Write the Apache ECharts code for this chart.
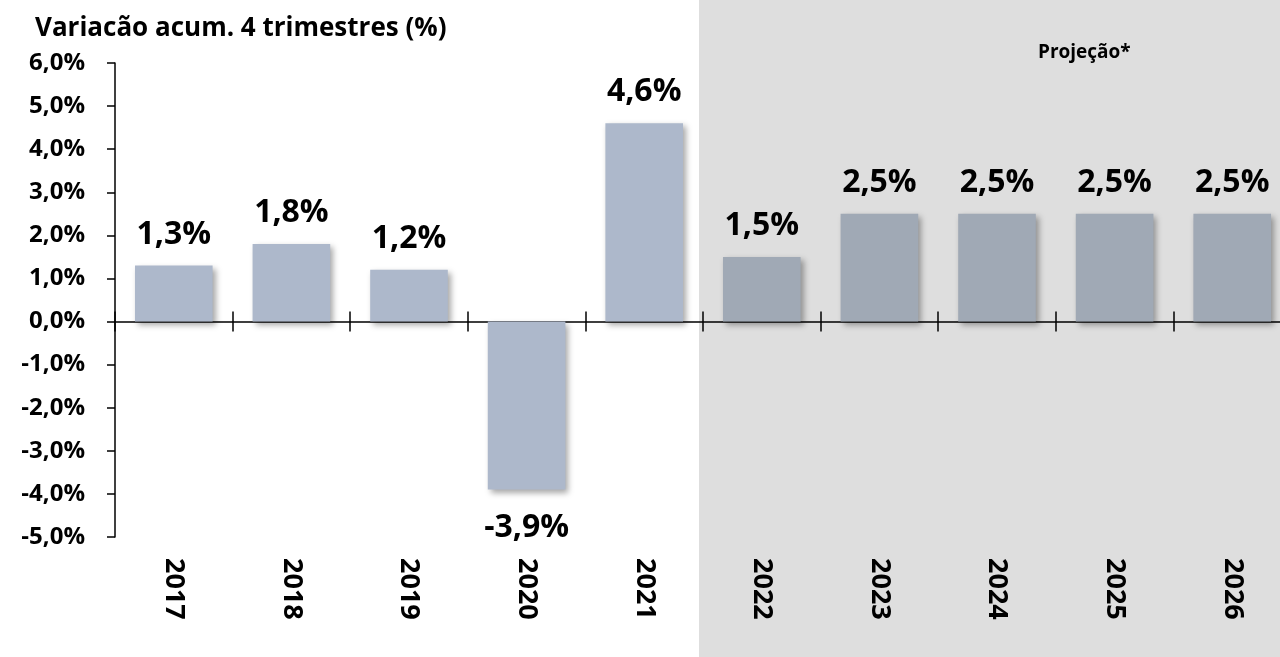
<!DOCTYPE html>
<html>
<head>
<meta charset="utf-8">
<script src="https://cdn.jsdelivr.net/npm/echarts@6/dist/echarts.min.js"></script>
<style>
  html, body { margin: 0; padding: 0; background: #fff; }
  #chart { width: 1280px; height: 657px; }
</style>
</head>
<body>
<div id="chart"></div>
<script>
var years = ['2017', '2018', '2019', '2020', '2021', '2022', '2023', '2024', '2025', '2026'];
var values = [1.3, 1.8, 1.2, -3.9, 4.6, 1.5, 2.5, 2.5, 2.5, 2.5];
var projected = [false, false, false, false, false, true, true, true, true, true];

var fontFam = '"Open Sans", "Noto Sans", sans-serif';

function pct(v) {
    return v.toFixed(1).replace('.', ',') + '%';
}

var chart = echarts.init(document.getElementById('chart'));

var option = {
    backgroundColor: '#ffffff',
    animation: false,
    title: [
        {
            text: 'Variacão acum. 4 trimestres (%)',
            left: 30,
            top: 11,
            textStyle: { fontFamily: fontFam, fontWeight: 'bold', fontSize: 26, color: '#000' }
        },
        {
            text: 'Projeção*',
            left: 1033,
            top: 38,
            textStyle: { fontFamily: fontFam, fontWeight: 'bold', fontSize: 19, color: '#000' }
        }
    ],
    graphic: [
        {
            type: 'rect',
            z: -10,
            silent: true,
            shape: { x: 699, y: 0, width: 600, height: 657 },
            style: { fill: '#dedede' }
        }
    ],
    grid: {
        left: 115,
        width: 1176,
        top: 63,
        bottom: 120,
        outerBoundsMode: 'none',
        containLabel: false
    },
    xAxis: [
        {
            type: 'category',
            data: years,
            position: 'bottom',
            axisLine: { onZero: true, onZeroAxisIndex: 0, lineStyle: { color: '#000', width: 1.5 } },
            axisTick: { show: true, inside: false, length: 10, lineStyle: { color: '#000', width: 1.5 } },
            axisLabel: { show: false }
        },
        {
            type: 'category',
            data: years,
            position: 'bottom',
            axisLine: { show: false, onZero: true, onZeroAxisIndex: 0 },
            axisTick: { show: true, inside: true, length: 10, lineStyle: { color: '#000', width: 1.5 } },
            axisLabel: { show: false }
        },
        {
            type: 'category',
            data: years,
            position: 'bottom',
            axisLine: { show: false, onZero: false },
            axisTick: { show: false },
            axisLabel: {
                rotate: -90,
                margin: 21,
                fontFamily: fontFam,
                fontWeight: 'bold',
                fontSize: 27,
                color: '#000'
            }
        }
    ],
    yAxis: {
        type: 'value',
        min: -5,
        max: 6,
        interval: 1,
        splitLine: { show: false },
        axisLine: { show: true, lineStyle: { color: '#000', width: 1.5 } },
        axisTick: { show: true, length: 8, lineStyle: { color: '#000', width: 1.5 } },
        axisLabel: {
            margin: 30,
            formatter: function (v) { return pct(v); },
            fontFamily: fontFam,
            fontWeight: 'bold',
            fontSize: 24,
            color: '#000'
        }
    },
    series: [
        {
            type: 'bar',
            xAxisIndex: 0,
            barWidth: '66%',
            data: values.map(function (v, i) {
                return {
                    value: v,
                    itemStyle: { color: projected[i] ? '#a0a9b5' : '#adb8cb' },
                    label: { position: v < 0 ? 'bottom' : 'top', distance: v < 0 ? 22 : 15 }
                };
            }),
            itemStyle: {
                shadowBlur: 6,
                shadowOffsetX: 3,
                shadowOffsetY: 3,
                shadowColor: 'rgba(0,0,0,0.35)'
            },
            label: {
                show: true,
                formatter: function (p) { return pct(p.value); },
                fontFamily: fontFam,
                fontWeight: 'bold',
                fontSize: 32,
                color: '#000'
            }
        }
    ]
};

chart.setOption(option);
</script>
</body>
</html>
